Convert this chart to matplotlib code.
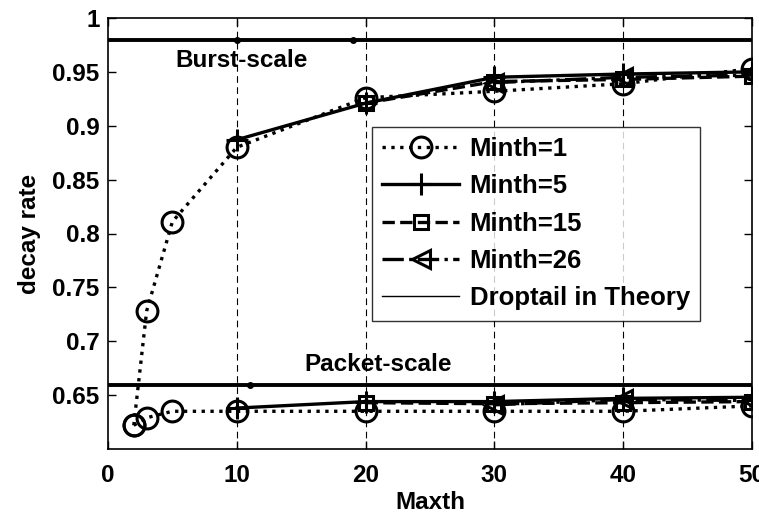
import numpy as np
import matplotlib
matplotlib.use("Agg")
import matplotlib.pyplot as plt
from matplotlib.lines import Line2D

plt.rcParams['font.family'] = ['Liberation Sans', 'DejaVu Sans']
plt.rcParams['font.weight'] = 'bold'

# Minth=1 (burst-scale and packet-scale branches)
x_m1 = [2, 3, 5, 10, 20, 30, 40, 50]
burst_m1 = [0.622, 0.728, 0.811, 0.880, 0.926, 0.932, 0.939, 0.953]
packet_m1 = [0.622, 0.629, 0.635, 0.635, 0.635, 0.635, 0.635, 0.640]

# Minth=5
x_m5 = [10, 20, 30, 40, 50]
burst_m5 = [0.887, 0.921, 0.945, 0.948, 0.950]
packet_m5 = [0.638, 0.644, 0.644, 0.647, 0.648]

# Minth=15
x_m15 = [20, 30, 40, 50]
burst_m15 = [0.921, 0.941, 0.943, 0.946]
packet_m15 = [0.643, 0.642, 0.643, 0.644]

# Minth=26
x_m26 = [30, 40, 50]
burst_m26 = [0.940, 0.945, 0.947]
packet_m26 = [0.641, 0.646, 0.645]

# droptail theory
theory_burst = 0.98
theory_packet = 0.659

FS = 17.5

fig = plt.figure(figsize=(7.59, 5.17), dpi=100)
ax = fig.add_axes([108/759, 1-449/517, 644/759, 431/517])

for xv in [10, 20, 30, 40]:
    ax.axvline(xv, color='black', lw=0.8, ls=(0, (6, 4)), zorder=1)

ax.plot([0, 50], [theory_burst]*2, color='black', lw=2.8, zorder=2)
ax.plot([0, 50], [theory_packet]*2, color='black', lw=2.8, zorder=2)
ax.plot([10, 19], [theory_burst]*2, 'o', color='black', ms=4, zorder=2)
ax.plot([11], [theory_packet], 'o', color='black', ms=4, zorder=2)

mk = dict(color='black', lw=2.4, mfc='none', mec='black', mew=2.2, zorder=3)
ax.plot(x_m1, burst_m1, ls=':', marker='o', ms=15, **mk)
ax.plot(x_m1, packet_m1, ls=':', marker='o', ms=15, **mk)
ax.plot(x_m5, burst_m5, ls='-', marker='+', ms=16, **mk)
ax.plot(x_m5, packet_m5, ls='-', marker='+', ms=16, **mk)
ax.plot(x_m15, burst_m15, ls='--', marker='s', ms=10, **mk)
ax.plot(x_m15, packet_m15, ls='--', marker='s', ms=10, **mk)
ax.plot(x_m26, burst_m26, ls='-.', marker='<', ms=13, **mk)
ax.plot(x_m26, packet_m26, ls='-.', marker='<', ms=13, **mk)

ax.text(10.4, 0.961, 'Burst-scale', fontsize=FS, fontweight='bold', ha='center', va='center')
ax.text(21, 0.678, 'Packet-scale', fontsize=FS, fontweight='bold', ha='center', va='center')

handles = [
    Line2D([], [], ls=':', marker='o', ms=15, **mk),
    Line2D([], [], ls='-', marker='+', ms=16, **mk),
    Line2D([], [], ls='--', marker='s', ms=10, **mk),
    Line2D([], [], ls='-.', marker='<', ms=13, **mk),
    Line2D([], [], color='black', lw=1),
]
labels = ['Minth=1', 'Minth=5', 'Minth=15', 'Minth=26', 'Droptail in Theory']
leg = ax.legend(handles, labels, loc='upper left', bbox_to_anchor=(0.41, 0.748),
                fontsize=18.5, frameon=True, fancybox=False, edgecolor='black',
                handlelength=3.0, labelspacing=0.52, borderpad=0.4,
                handletextpad=0.4, borderaxespad=0)
leg.get_frame().set_linewidth(1.0)
leg.set_zorder(5)

ax.set_xlim(0, 50)
ax.set_ylim(0.6, 1.0)
ax.set_xticks([0, 10, 20, 30, 40, 50])
ax.set_yticks([0.65, 0.7, 0.75, 0.8, 0.85, 0.9, 0.95, 1.0])
ax.set_yticklabels(['0.65', '0.7', '0.75', '0.8', '0.85', '0.9', '0.95', '1'])
ax.tick_params(direction='in', top=True, right=True, labelsize=FS, length=6, width=1, pad=6)
ax.tick_params(axis='x', pad=11)
for lab in ax.get_xticklabels() + ax.get_yticklabels():
    lab.set_fontweight('bold')
for s in ax.spines.values():
    s.set_linewidth(1.2)

ax.set_xlabel('Maxth', fontsize=FS, fontweight='bold', labelpad=3)
ax.set_ylabel('decay rate', fontsize=FS, fontweight='bold', labelpad=8)

fig.savefig('out.png', dpi=100)
